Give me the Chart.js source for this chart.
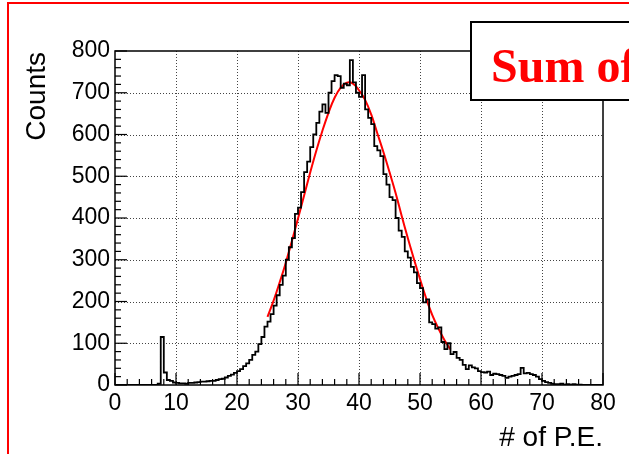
<!DOCTYPE html>
<html>
<head>
<meta charset="utf-8">
<script src="https://cdn.jsdelivr.net/npm/chart.js@4.4.1/dist/chart.umd.min.js"></script>
<style>
html,body{margin:0;padding:0;background:#fff;}
#wrap{width:629px;height:454px;}
</style>
</head>
<body>
<div id="wrap"><canvas id="peChart" width="629" height="454"></canvas></div>
<script>
// histogram: 160 bins of 0.5 P.E. from 0 to 80
const binWidth = 0.5;
const counts = [
  0,0,0,0,0,0,0,0,0,0,0,0,0,0,0,3,
  115,30,12,10,6,5,4,4,3,5,5,6,7,8,8,9,
  10,10,12,14,15,18,22,25,29,33,38,45,52,60,72,80,
  98,115,140,152,170,190,215,240,262,300,330,352,410,425,462,510,
  535,570,600,628,655,672,652,700,728,742,740,712,722,718,778,725,
  700,690,742,660,640,625,572,562,548,505,480,450,443,400,370,355,
  320,305,283,270,244,232,198,205,150,146,135,138,103,86,100,74,
  79,65,60,48,38,47,42,40,33,31,30,32,24,27,26,24,
  22,17,20,22,24,26,41,28,29,26,24,20,14,10,7,5,
  3,2,2,3,1,2,1,2,1,1,0,0,0,0,0,0
];

// gaussian fit curve
const fitX = [25,26,27,28,29,30,31,32,33,34,35,36,37,38,39,40,41,42,43,44,45,46,47,48,49,50,51,52,53,54,55];
const fitY = [163,202,246,293,345,399,454,509,561,609,652,688,712,724,722,706,683,648,603,558,510,460,405,352,302,254,208,168,136,108,85];

const xTicks = [0,10,20,30,40,50,60,70,80];
const yTicks = [0,100,200,300,400,500,600,700,800];

const histPoints = counts.map((c,i)=>({x:i*binWidth, y:c}));
histPoints.push({x:counts.length*binWidth, y:counts[counts.length-1]});

const fitPoints = fitX.map((x,i)=>({x:x, y:fitY[i]}));

const rootStyle = {
  id:"rootStyle",
  beforeDatasetsDraw(chart){
    const {ctx, chartArea:a, scales:{x, y}} = chart;
    ctx.save();
    ctx.strokeStyle="#444";
    ctx.lineWidth=1;
    ctx.setLineDash([1,2]);
    xTicks.forEach(v=>{
      if(v===0||v===80) return;
      const px=Math.round(x.getPixelForValue(v))+0.5;
      ctx.beginPath(); ctx.moveTo(px,a.bottom); ctx.lineTo(px,a.top); ctx.stroke();
    });
    yTicks.forEach(v=>{
      if(v===0||v===800) return;
      const py=Math.round(y.getPixelForValue(v))+0.5;
      ctx.beginPath(); ctx.moveTo(a.left,py); ctx.lineTo(a.right,py); ctx.stroke();
    });
    ctx.restore();
  },
  afterDatasetsDraw(chart){
    const {ctx, chartArea:a, scales:{x, y}} = chart;
    ctx.save();
    ctx.strokeStyle="#000";
    ctx.lineWidth=1.5;
    ctx.strokeRect(a.left, a.top, a.right-a.left, a.bottom-a.top);
    ctx.lineWidth=1.2;
    for(let v=0; v<=80; v+=2){
      const px=x.getPixelForValue(v);
      const len = v%10===0 ? 12 : 6;
      ctx.beginPath(); ctx.moveTo(px,a.bottom); ctx.lineTo(px,a.bottom-len); ctx.stroke();
    }
    for(let v=0; v<=800; v+=20){
      const py=y.getPixelForValue(v);
      const len = v%100===0 ? 12 : 6;
      ctx.beginPath(); ctx.moveTo(a.left,py); ctx.lineTo(a.left+len,py); ctx.stroke();
    }
    ctx.restore();
  },
  afterDraw(chart){
    const {ctx, chartArea:a} = chart;
    ctx.save();
    // label box
    ctx.fillStyle="#fff";
    ctx.fillRect(471,22,170,78);
    ctx.strokeStyle="#000";
    ctx.lineWidth=2;
    ctx.strokeRect(471,22,170,78);
    ctx.fillStyle="#ff0000";
    ctx.font="bold 48px 'Liberation Serif'";
    ctx.textAlign="left";
    ctx.textBaseline="alphabetic";
    ctx.fillText("Sum of", 491, 82);
    // axis titles
    ctx.fillStyle="#000";
    ctx.font="28px 'Liberation Sans'";
    ctx.textAlign="right";
    ctx.fillText("# of P.E.", a.right, 446);
    ctx.translate(37, a.top+1);
    ctx.rotate(-Math.PI/2);
    ctx.textAlign="right";
    ctx.textBaseline="middle";
    ctx.fillText("Counts", 0, 0);
    ctx.restore();
    // red frame
    ctx.save();
    ctx.strokeStyle="#ff0000";
    ctx.lineWidth=2;
    ctx.beginPath();
    ctx.moveTo(8,454); ctx.lineTo(8,3); ctx.lineTo(629,3);
    ctx.stroke();
    ctx.restore();
  }
};

const ctx = document.getElementById("peChart");
new Chart(ctx,{
  type:"line",
  data:{
    datasets:[
      {
        label:"histogram",
        data:histPoints,
        stepped:"after",
        borderColor:"#000",
        borderWidth:1.8,
        pointRadius:0,
        fill:false
      },
      {
        label:"fit",
        data:fitPoints,
        borderColor:"#ff0000",
        borderWidth:2,
        pointRadius:0,
        tension:0.4,
        fill:false
      }
    ]
  },
  options:{
    responsive:false,
    animation:false,
    layout:{padding:{left:0,right:26,top:51,bottom:0}},
    plugins:{legend:{display:false}, tooltip:{enabled:false}},
    scales:{
      x:{
        type:"linear",
        min:0, max:80,
        afterFit(s){ s.height=69; },
        afterBuildTicks(s){ s.ticks = xTicks.map(v=>({value:v})); },
        grid:{display:false, drawTicks:false},
        border:{display:false},
        ticks:{color:"#000", padding:5, maxRotation:0, font:{family:"'Liberation Sans'", size:23}}
      },
      y:{
        type:"linear",
        min:0, max:800,
        afterFit(s){ s.width=115; },
        afterBuildTicks(s){ s.ticks = yTicks.map(v=>({value:v})); },
        grid:{display:false, drawTicks:false},
        border:{display:false},
        ticks:{color:"#000", padding:5, font:{family:"'Liberation Sans'", size:23}}
      }
    }
  },
  plugins:[rootStyle]
});
</script>
</body>
</html>
